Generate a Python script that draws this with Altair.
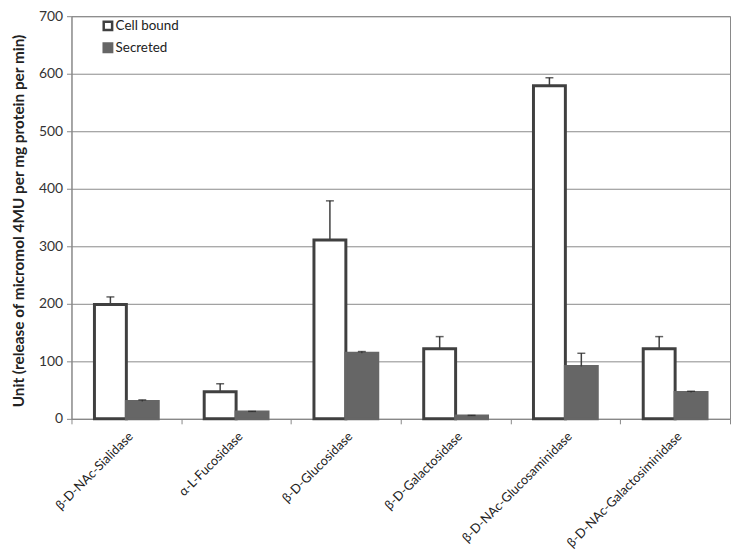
import altair as alt
import pandas as pd

enzymes = ["β-D-NAc-Sialidase", "α-L-Fucosidase", "β-D-Glucosidase",
           "β-D-Galactosidase", "β-D-NAc-Glucosaminidase", "β-D-NAc-Galactosiminidase"]
series = ["Cell bound", "Secreted"]
cell_bound = [199, 47, 311, 122, 579, 122]
cell_bound_err = [13, 14, 68, 21, 14, 21]
secreted = [30, 12, 114, 5, 91, 46]
secreted_err = [3, 1, 3, 1, 23, 2]

rows = []
for i, e in enumerate(enzymes):
    rows.append({"enzyme": e, "series": "Cell bound", "value": cell_bound[i],
                 "top": cell_bound[i] + cell_bound_err[i]})
    rows.append({"enzyme": e, "series": "Secreted", "value": secreted[i],
                 "top": secreted[i] + secreted_err[i]})
df = pd.DataFrame(rows)

FONT = "Lato"
x = alt.X("enzyme:N", sort=enzymes, title=None,
          scale=alt.Scale(paddingInner=0, paddingOuter=0),
          axis=alt.Axis(tickBand="extent", labelAngle=-45,
                        labelAlign="right", labelBaseline="top", labelPadding=6,
                        labelFontSize=12.9, labelFont=FONT, labelColor="#222",
                        tickSize=5, tickColor="#888", domainColor="#888",
                        labelLimit=300))
xo = alt.XOffset("series:N", sort=series,
                 scale=alt.Scale(paddingOuter=0.72, paddingInner=0))

leg = alt.Legend(title=None, orient="none", legendX=30, legendY=3,
                 symbolType="square", symbolSize=72,
                 symbolStrokeWidth=2.5, labelFontSize=13.5,
                 labelFont=FONT, labelColor="#222",
                 rowPadding=3, labelOffset=1)

bars = alt.Chart(df).mark_bar(strokeWidth=3).encode(
    x=x, xOffset=xo,
    y=alt.Y("value:Q", title="Unit (release of  micromol 4MU per mg protein per min)",
            scale=alt.Scale(domain=[0, 700]),
            axis=alt.Axis(values=list(range(0, 701, 100)), tickSize=5,
                          tickColor="#888", domainColor="#888", gridColor="#8a8a8a",
                          labelFontSize=14, labelFont=FONT, labelColor="#333",
                          labelPadding=4, titleFont=FONT, titleFontSize=15.5,
                          titleFontWeight="bold", titleColor="#222",
                          titleX=-53, titleY=206, titleBaseline="middle")),
    fill=alt.Fill("series:N", sort=series,
                  scale=alt.Scale(domain=series, range=["#ffffff", "#666666"]),
                  legend=leg),
    stroke=alt.Stroke("series:N", sort=series,
                      scale=alt.Scale(domain=series, range=["#404040", "#666666"]),
                      legend=leg),
)

err = alt.Chart(df).mark_rule(color="#404040", strokeWidth=1.5).encode(
    x=x, xOffset=xo, y="value:Q", y2="top:Q")
caps = alt.Chart(df).mark_tick(color="#222222", thickness=1.5, size=8,
                               orient="horizontal").encode(
    x=x, xOffset=xo, y="top:Q")

chart = alt.layer(bars, err, caps).properties(
    width=664, height=406,
    autosize=alt.AutoSizeParams(type="none"),
    padding={"left": 64, "top": 6, "right": 1, "bottom": 135},
).configure_view(stroke="#888888", strokeWidth=1).configure_axis(grid=False).configure_axisY(grid=True)

chart.save("out.html", embed_options={"renderer": "svg", "actions": False})
